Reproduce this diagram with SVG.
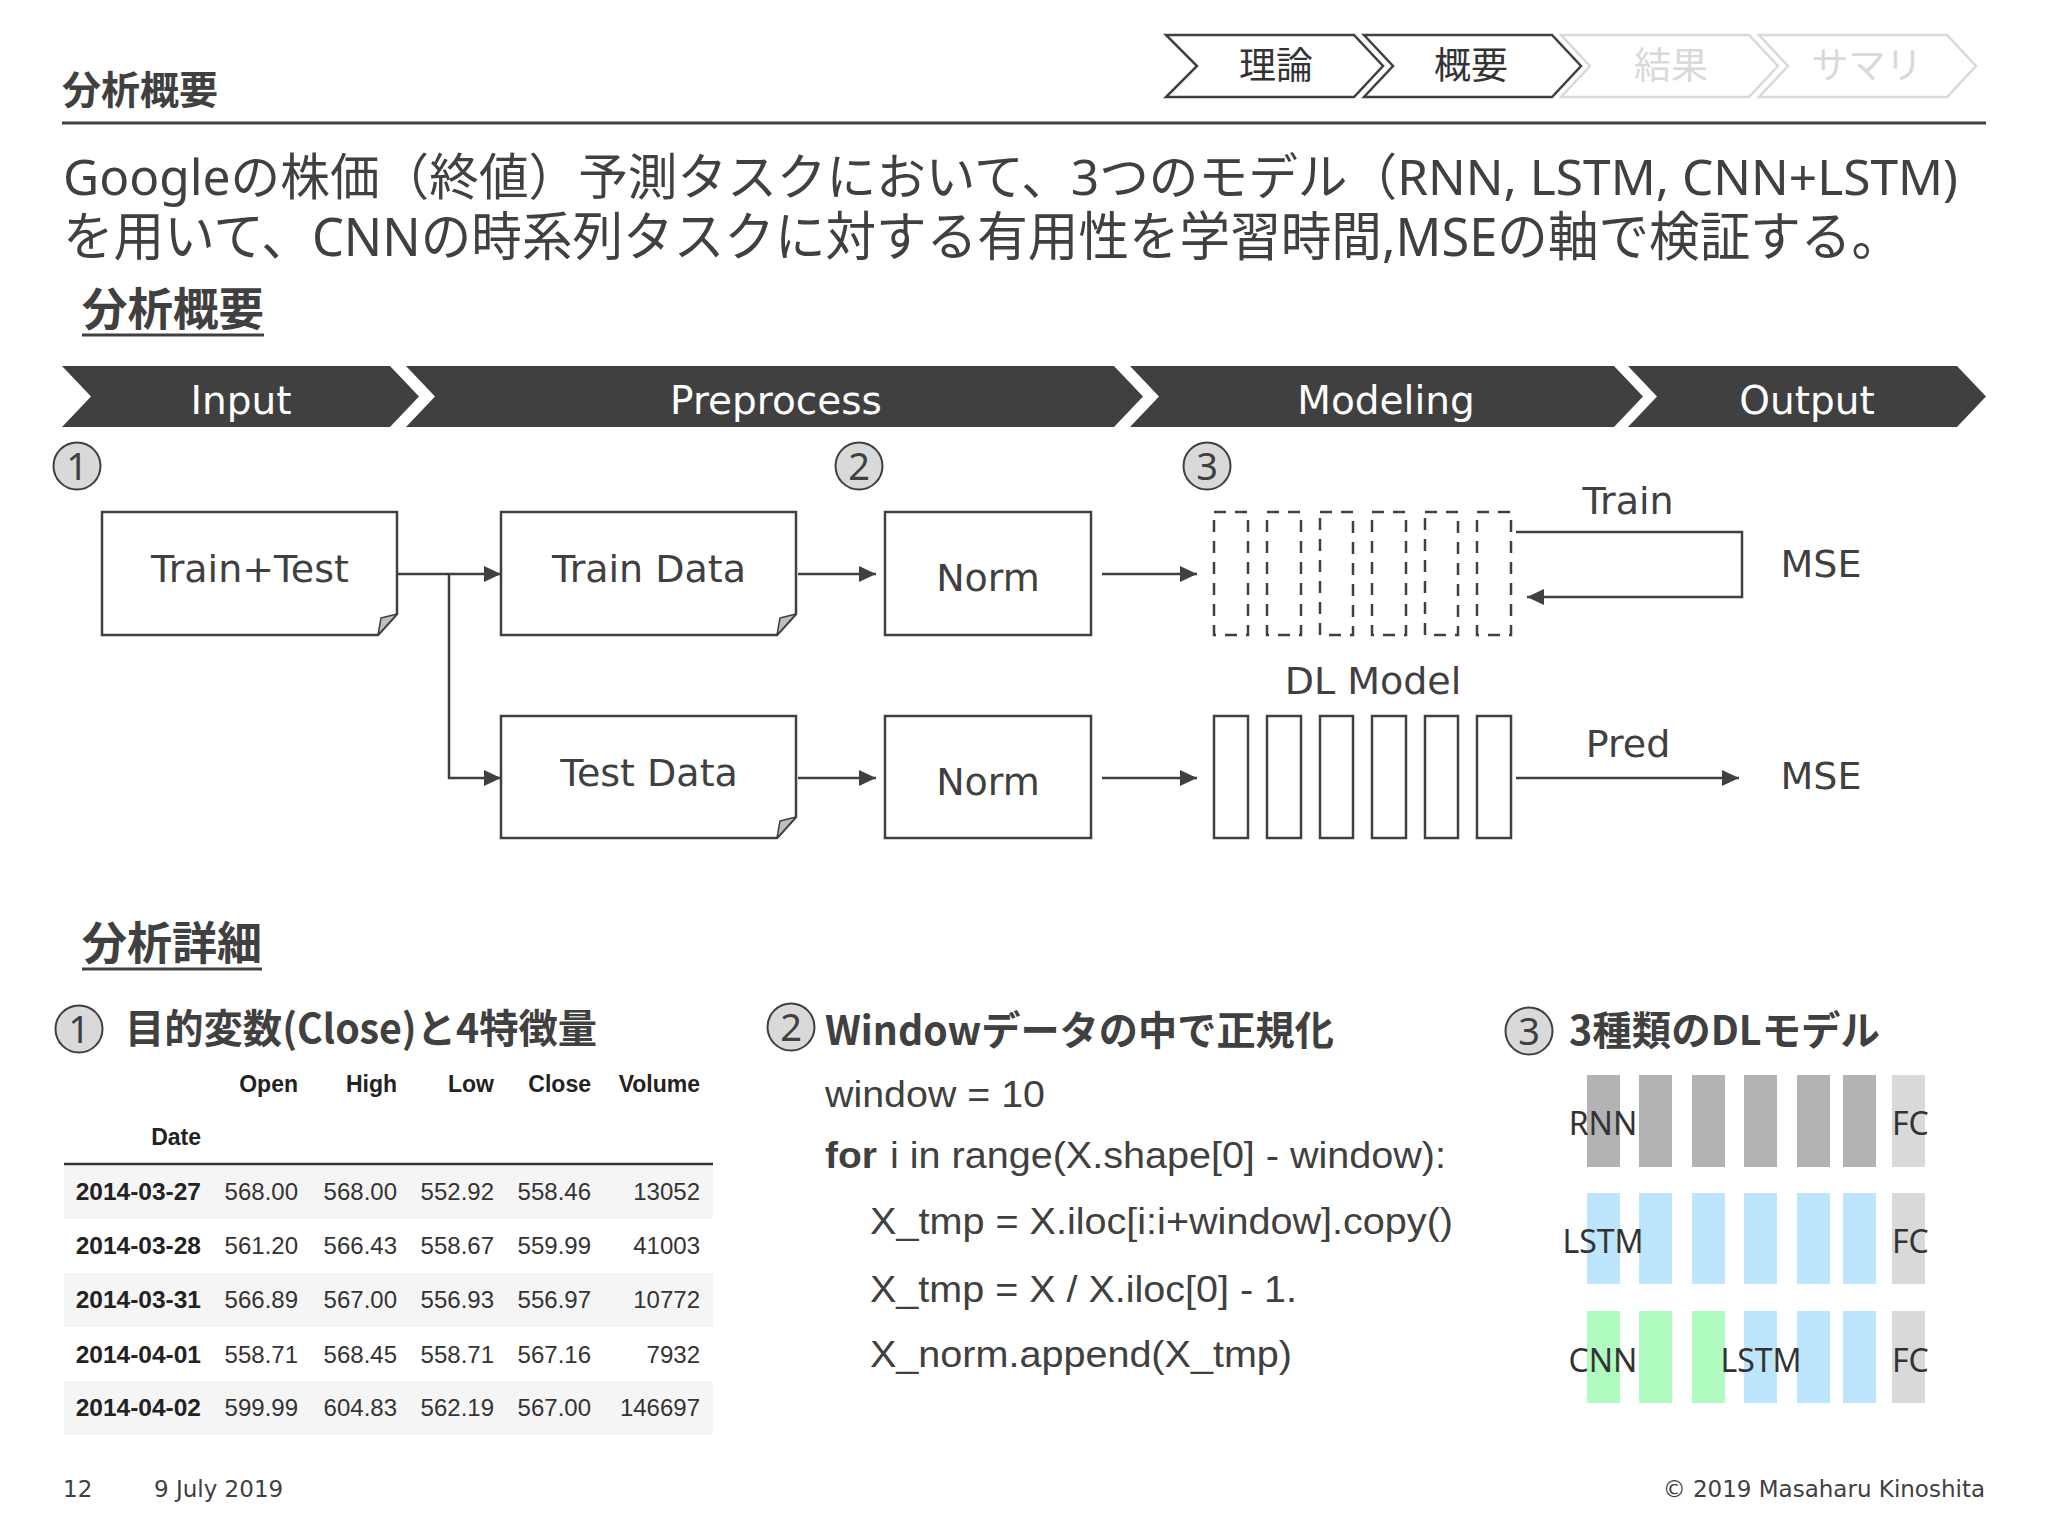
<svg xmlns="http://www.w3.org/2000/svg" width="2048" height="1536" viewBox="0 0 2048 1536">
<defs>
<style>
.jp{font-family:"Noto Sans CJK JP","DejaVu Sans",sans-serif;}
.jpb{font-family:"Noto Sans CJK JP",sans-serif;font-weight:700;fill:#404040;}
.ttl{font-family:"Noto Sans","Noto Sans CJK JP",sans-serif;fill:#404040;}
.num{font-family:"Noto Sans","DejaVu Sans",sans-serif;fill:#404040;font-size:38px;text-anchor:middle;}
.circ{fill:#d9d9d9;stroke:#404040;stroke-width:2;}
.phase{fill:#404040;}
.phtxt{font-family:"DejaVu Sans",sans-serif;fill:#ffffff;font-size:39px;text-anchor:middle;}
.box{fill:#ffffff;stroke:#404040;stroke-width:2.5;}
.fold{fill:#bfbfbf;stroke:#404040;stroke-width:1.5;stroke-linejoin:round;}
.lbl{font-family:"DejaVu Sans",sans-serif;fill:#404040;font-size:38px;text-anchor:middle;}
.dash{fill:none;stroke:#404040;stroke-width:2.5;stroke-dasharray:12 9;}
.solid{fill:#ffffff;stroke:#404040;stroke-width:2.5;}
.conn{fill:none;stroke:#404040;stroke-width:2.5;}
.tbl{font-family:"Liberation Sans",Arial,sans-serif;font-size:24px;fill:#333333;text-anchor:end;}
.tblb{font-family:"Liberation Sans",Arial,sans-serif;font-size:23px;font-weight:700;fill:#222222;text-anchor:end;}
.date{font-family:"Liberation Sans",Arial,sans-serif;font-size:24.5px;font-weight:700;fill:#222222;text-anchor:end;}
.code{font-family:"Liberation Sans",Arial,sans-serif;font-size:36px;fill:#404040;}
.mdl{font-family:"Noto Sans","Open Sans",sans-serif;font-size:32px;fill:#333333;}
.foot{font-family:"DejaVu Sans",sans-serif;font-size:23px;fill:#404040;}
</style>
<marker id="ah" markerUnits="userSpaceOnUse" markerWidth="18" markerHeight="16" refX="17" refY="8" orient="auto">
<path d="M0,0 L17,8 L0,16 Z" fill="#404040"/>
</marker>
</defs>
<rect width="2048" height="1536" fill="#ffffff"/>

<!-- Header -->
<g id="header">
<text x="62" y="104" class="jpb" font-size="39">分析概要</text>
<line x1="62" y1="123" x2="1986" y2="123" stroke="#404040" stroke-width="3"/>
</g>

<!-- Breadcrumbs -->
<g id="breadcrumbs">
<polygon points="1166,35 1354,35 1383,66 1354,97 1166,97 1197,66" fill="#ffffff" stroke="#404040" stroke-width="2.5"/>
<polygon points="1364,35 1552,35 1581,66 1552,97 1364,97 1393,66" fill="#ffffff" stroke="#404040" stroke-width="2.5"/>
<polygon points="1561,35 1749,35 1778,66 1749,97 1561,97 1590,66" fill="#ffffff" stroke="#d9d9d9" stroke-width="2.5"/>
<polygon points="1759,35 1947,35 1976,66 1947,97 1759,97 1788,66" fill="#ffffff" stroke="#d9d9d9" stroke-width="2.5"/>
<text x="1276" y="79" class="jp" font-size="37" fill="#333333" text-anchor="middle">理論</text>
<text x="1471" y="79" class="jp" font-size="37" fill="#333333" text-anchor="middle">概要</text>
<text x="1671" y="79" class="jp" font-size="37" fill="#d9d9d9" text-anchor="middle">結果</text>
<text x="1867" y="79" class="jp" font-size="37" fill="#d9d9d9" text-anchor="middle">サマリ</text>
</g>

<!-- Title -->
<g id="title">
<text x="63" y="195" class="ttl" font-size="50" textLength="1895" lengthAdjust="spacingAndGlyphs">Googleの株価（終値）予測タスクにおいて、3つのモデル（RNN, LSTM, CNN+LSTM)</text>
<text x="63" y="256" class="ttl" font-size="53" textLength="1839" lengthAdjust="spacingAndGlyphs">を用いて、CNNの時系列タスクに対する有用性を学習時間,MSEの軸で検証する。</text>
</g>

<!-- Section heading: overview -->
<g id="heading-overview">
<text x="82" y="326" class="jpb" font-size="45" textLength="182" lengthAdjust="spacingAndGlyphs">分析概要</text>
<line x1="82" y1="335" x2="264" y2="335" stroke="#404040" stroke-width="3"/>
</g>

<!-- Phase chevrons -->
<g id="phase-input">
<polygon class="phase" points="62,366 390,366 419,396.5 390,427 62,427 91,396.5"/>
<text x="241" y="414" class="phtxt">Input</text>
</g>
<g id="phase-preprocess">
<polygon class="phase" points="406,366 1114,366 1143,396.5 1114,427 406,427 435,396.5"/>
<text x="776" y="414" class="phtxt">Preprocess</text>
</g>
<g id="phase-modeling">
<polygon class="phase" points="1130,366 1614,366 1643,396.5 1614,427 1130,427 1159,396.5"/>
<text x="1386" y="414" class="phtxt">Modeling</text>
</g>
<g id="phase-output">
<polygon class="phase" points="1628,366 1957,366 1986,396.5 1957,427 1628,427 1657,396.5"/>
<text x="1807" y="414" class="phtxt">Output</text>
</g>

<!-- Step markers -->
<g id="marker-1"><circle class="circ" cx="77" cy="466" r="23.5"/><text x="77" y="480" class="num">1</text></g>
<g id="marker-2"><circle class="circ" cx="859" cy="466" r="23.5"/><text x="859" y="480" class="num">2</text></g>
<g id="marker-3"><circle class="circ" cx="1207" cy="466" r="23.5"/><text x="1207" y="480" class="num">3</text></g>

<!-- Nodes -->
<g id="node-train-test">
<path class="box" d="M102,512 H397 V614 L378,635 H102 Z"/>
<path class="fold" d="M397,614 L378,635 L381,618 Z"/>
<text x="250" y="582" class="lbl">Train+Test</text>
</g>
<g id="node-train-data">
<path class="box" d="M501,512 H796 V614 L777,635 H501 Z"/>
<path class="fold" d="M796,614 L777,635 L780,618 Z"/>
<text x="649" y="582" class="lbl">Train Data</text>
</g>
<g id="node-test-data">
<path class="box" d="M501,716 H796 V817 L777,838 H501 Z"/>
<path class="fold" d="M796,817 L777,838 L780,821 Z"/>
<text x="649" y="786" class="lbl">Test Data</text>
</g>
<g id="node-norm-train">
<rect class="box" x="885" y="512" width="206" height="123"/>
<text x="988" y="591" class="lbl">Norm</text>
</g>
<g id="node-norm-test">
<rect class="box" x="885" y="716" width="206" height="122"/>
<text x="988" y="795" class="lbl">Norm</text>
</g>
<g id="node-dl-train">
<rect class="dash" x="1214" y="512" width="34" height="123"/>
<rect class="dash" x="1267" y="512" width="34" height="123"/>
<rect class="dash" x="1320" y="512" width="33" height="123"/>
<rect class="dash" x="1372" y="512" width="34" height="123"/>
<rect class="dash" x="1425" y="512" width="33" height="123"/>
<rect class="dash" x="1477" y="512" width="34" height="123"/>
</g>
<g id="node-dl-label">
<text x="1373" y="694" class="lbl">DL Model</text>
</g>
<g id="node-dl-test">
<rect class="solid" x="1214" y="716" width="34" height="122"/>
<rect class="solid" x="1267" y="716" width="34" height="122"/>
<rect class="solid" x="1320" y="716" width="33" height="122"/>
<rect class="solid" x="1372" y="716" width="34" height="122"/>
<rect class="solid" x="1425" y="716" width="33" height="122"/>
<rect class="solid" x="1477" y="716" width="34" height="122"/>
</g>
<g id="node-mse-train"><text x="1821" y="577" class="lbl">MSE</text></g>
<g id="node-mse-test"><text x="1821" y="789" class="lbl">MSE</text></g>

<!-- Connectors -->
<g id="connectors">
<path class="conn" d="M397,574 H501" marker-end="url(#ah)"/>
<path class="conn" d="M449,574 V778 H501" marker-end="url(#ah)"/>
<path class="conn" d="M798,574 H876" marker-end="url(#ah)"/>
<path class="conn" d="M798,778 H876" marker-end="url(#ah)"/>
<path class="conn" d="M1102,574 H1197" marker-end="url(#ah)"/>
<path class="conn" d="M1102,778 H1197" marker-end="url(#ah)"/>
<path class="conn" d="M1516,532 H1742 V597 H1527" marker-end="url(#ah)"/>
<path class="conn" d="M1516,778 H1739" marker-end="url(#ah)"/>
<text x="1628" y="514" class="lbl">Train</text>
<text x="1628" y="757" class="lbl">Pred</text>
</g>

<!-- Section heading: details -->
<g id="heading-details">
<text x="82" y="960" class="jpb" font-size="45" textLength="180" lengthAdjust="spacingAndGlyphs">分析詳細</text>
<line x1="82" y1="969" x2="262" y2="969" stroke="#404040" stroke-width="3"/>
</g>

<!-- Detail 1: table -->
<g id="detail-1">
<circle class="circ" cx="79" cy="1029" r="23.5"/><text x="79" y="1043" class="num">1</text>
<text x="125" y="1043" class="jpb" font-size="40" textLength="472" lengthAdjust="spacingAndGlyphs">目的変数(Close)と4特徴量</text>
<text x="298" y="1092" class="tblb">Open</text>
<text x="397" y="1092" class="tblb">High</text>
<text x="494" y="1092" class="tblb">Low</text>
<text x="591" y="1092" class="tblb">Close</text>
<text x="700" y="1092" class="tblb">Volume</text>
<text x="201" y="1145" class="tblb">Date</text>
<rect x="64" y="1165" width="649" height="54" fill="#f5f5f5"/>
<rect x="64" y="1273" width="649" height="54" fill="#f5f5f5"/>
<rect x="64" y="1381" width="649" height="54" fill="#f5f5f5"/>
<line x1="64" y1="1164" x2="713" y2="1164" stroke="#333333" stroke-width="2.5"/>
<text x="201" y="1200" class="date">2014-03-27</text>
<text x="298" y="1200" class="tbl">568.00</text><text x="397" y="1200" class="tbl">568.00</text><text x="494" y="1200" class="tbl">552.92</text><text x="591" y="1200" class="tbl">558.46</text><text x="700" y="1200" class="tbl">13052</text>
<text x="201" y="1254" class="date">2014-03-28</text>
<text x="298" y="1254" class="tbl">561.20</text><text x="397" y="1254" class="tbl">566.43</text><text x="494" y="1254" class="tbl">558.67</text><text x="591" y="1254" class="tbl">559.99</text><text x="700" y="1254" class="tbl">41003</text>
<text x="201" y="1308" class="date">2014-03-31</text>
<text x="298" y="1308" class="tbl">566.89</text><text x="397" y="1308" class="tbl">567.00</text><text x="494" y="1308" class="tbl">556.93</text><text x="591" y="1308" class="tbl">556.97</text><text x="700" y="1308" class="tbl">10772</text>
<text x="201" y="1363" class="date">2014-04-01</text>
<text x="298" y="1363" class="tbl">558.71</text><text x="397" y="1363" class="tbl">568.45</text><text x="494" y="1363" class="tbl">558.71</text><text x="591" y="1363" class="tbl">567.16</text><text x="700" y="1363" class="tbl">7932</text>
<text x="201" y="1416" class="date">2014-04-02</text>
<text x="298" y="1416" class="tbl">599.99</text><text x="397" y="1416" class="tbl">604.83</text><text x="494" y="1416" class="tbl">562.19</text><text x="591" y="1416" class="tbl">567.00</text><text x="700" y="1416" class="tbl">146697</text>
</g>

<!-- Detail 2: code -->
<g id="detail-2">
<circle class="circ" cx="791" cy="1027" r="23.5"/><text x="791" y="1041" class="num">2</text>
<text x="825" y="1045" class="jpb" font-size="40" textLength="509" lengthAdjust="spacingAndGlyphs">Windowデータの中で正規化</text>
<text x="825" y="1107" class="code" textLength="220" lengthAdjust="spacingAndGlyphs">window = 10</text>
<text x="825" y="1168" class="code" font-weight="700" textLength="52" lengthAdjust="spacingAndGlyphs">for</text>
<text x="890" y="1168" class="code" textLength="556" lengthAdjust="spacingAndGlyphs">i in range(X.shape[0] - window):</text>
<text x="870" y="1234" class="code" textLength="583" lengthAdjust="spacingAndGlyphs">X_tmp = X.iloc[i:i+window].copy()</text>
<text x="870" y="1302" class="code" textLength="427" lengthAdjust="spacingAndGlyphs">X_tmp = X / X.iloc[0] - 1.</text>
<text x="870" y="1367" class="code" textLength="422" lengthAdjust="spacingAndGlyphs">X_norm.append(X_tmp)</text>
</g>

<!-- Detail 3: model types -->
<g id="detail-3">
<circle class="circ" cx="1529" cy="1031" r="23.5"/><text x="1529" y="1045" class="num">3</text>
<text x="1569" y="1045" class="jpb" font-size="40" textLength="311" lengthAdjust="spacingAndGlyphs">3種類のDLモデル</text>
<g id="model-rnn">
<rect x="1587" y="1075" width="33" height="92" fill="#b3b3b3"/>
<rect x="1639" y="1075" width="33" height="92" fill="#b3b3b3"/>
<rect x="1692" y="1075" width="33" height="92" fill="#b3b3b3"/>
<rect x="1744" y="1075" width="33" height="92" fill="#b3b3b3"/>
<rect x="1797" y="1075" width="33" height="92" fill="#b3b3b3"/>
<rect x="1843" y="1075" width="33" height="92" fill="#b3b3b3"/>
<rect x="1892" y="1075" width="33" height="92" fill="#d9d9d9"/>
<text x="1603" y="1135" class="mdl" text-anchor="middle">RNN</text>
<text x="1892" y="1135" class="mdl" font-size="31">FC</text>
</g>
<g id="model-lstm">
<rect x="1587" y="1193" width="33" height="91" fill="#bde5fb"/>
<rect x="1639" y="1193" width="33" height="91" fill="#bde5fb"/>
<rect x="1692" y="1193" width="33" height="91" fill="#bde5fb"/>
<rect x="1744" y="1193" width="33" height="91" fill="#bde5fb"/>
<rect x="1797" y="1193" width="33" height="91" fill="#bde5fb"/>
<rect x="1843" y="1193" width="33" height="91" fill="#bde5fb"/>
<rect x="1892" y="1193" width="33" height="91" fill="#d9d9d9"/>
<text x="1603" y="1253" class="mdl" text-anchor="middle">LSTM</text>
<text x="1892" y="1253" class="mdl" font-size="31">FC</text>
</g>
<g id="model-cnn-lstm">
<rect x="1587" y="1311" width="33" height="92" fill="#b0fbbf"/>
<rect x="1639" y="1311" width="33" height="92" fill="#b0fbbf"/>
<rect x="1692" y="1311" width="33" height="92" fill="#b0fbbf"/>
<rect x="1744" y="1311" width="33" height="92" fill="#bde5fb"/>
<rect x="1797" y="1311" width="33" height="92" fill="#bde5fb"/>
<rect x="1843" y="1311" width="33" height="92" fill="#bde5fb"/>
<rect x="1892" y="1311" width="33" height="92" fill="#d9d9d9"/>
<text x="1603" y="1372" class="mdl" text-anchor="middle">CNN</text>
<text x="1761" y="1372" class="mdl" text-anchor="middle">LSTM</text>
<text x="1892" y="1372" class="mdl" font-size="31">FC</text>
</g>
</g>

<!-- Footer -->
<g id="footer">
<text x="63" y="1497" class="foot">12</text>
<text x="154" y="1497" class="foot">9 July 2019</text>
<text x="1985" y="1497" class="foot" text-anchor="end">© 2019 Masaharu Kinoshita</text>
</g>
</svg>
